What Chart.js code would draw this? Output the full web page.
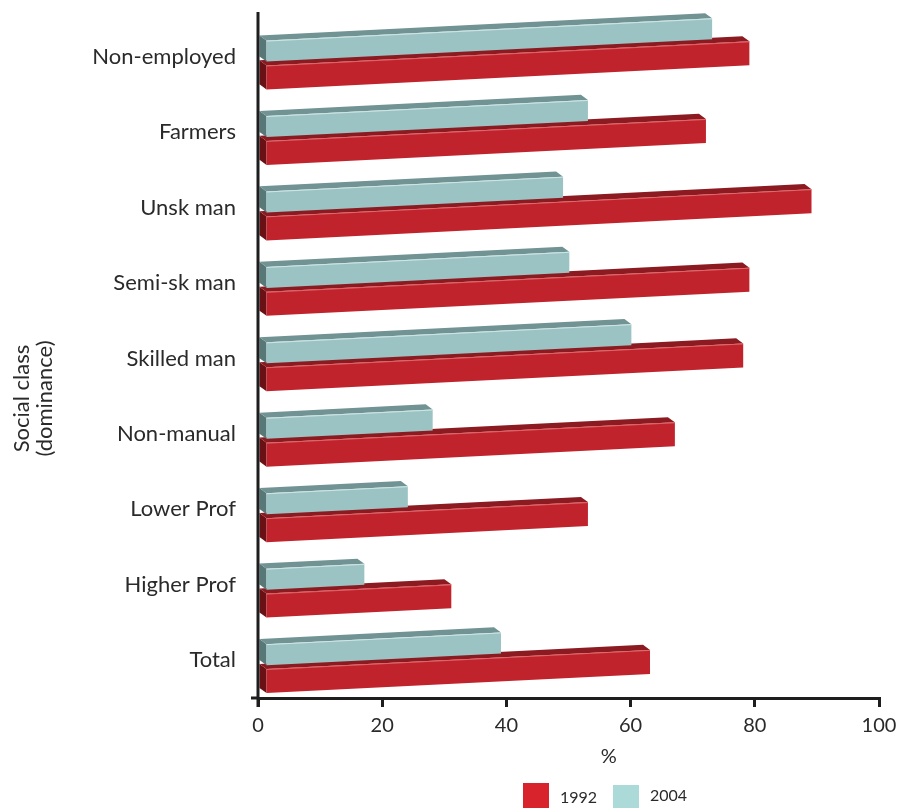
<!DOCTYPE html>
<html>
<head>
<meta charset="utf-8">
<script src="https://cdn.jsdelivr.net/npm/chart.js@4/dist/chart.umd.min.js"></script>
<style>
  html, body { margin: 0; padding: 0; background: #fff; overflow: hidden; }
  #wrap { position: relative; width: 898px; height: 808px; overflow: hidden; }
  #legend { position: absolute; left: 0; top: 0; width: 898px; height: 808px; pointer-events: none; }
  .lg-box { position: absolute; width: 26px; height: 30px; }
  .lg-text { position: absolute; font-family: Lato, sans-serif; font-size: 16px; color: #2a2a2a; line-height: 16px; }
</style>
</head>
<body>
<div id="wrap">
  <canvas id="chart" width="898" height="808"></canvas>
  <div id="legend"></div>
</div>
<script>
// Social class categories, top to bottom
const categories = ['Non-employed', 'Farmers', 'Unsk man', 'Semi-sk man', 'Skilled man',
                    'Non-manual', 'Lower Prof', 'Higher Prof', 'Total'];
// Percentages per year
const values1992 = [78, 71, 88, 78, 77, 66, 52, 30, 62];
const values2004 = [72, 52, 48, 49, 59, 27, 23, 16, 38];
const xTickValues = [0, 20, 40, 60, 80, 100];
const yearLabels = ['1992', '2004'];
const xTitle = '%';
const yTitle = ['Social class', '(dominance)'];

// Face shading for the extruded bars
const faces = {
  '1992': { front: '#c0232b', top: '#8c1a21', side: '#6a1116', edge: 'rgba(236,120,124,0.75)', legend: '#d8232c', h: 24 },
  '2004': { front: '#9cc3c3', top: '#729393', side: '#587777', edge: 'rgba(215,235,235,0.85)', legend: '#acdad8', h: 21 }
};
const depthX = -7, depthY = -5.5;   // receding direction of the extrusion
const frontDX = 7, frontDY = 8;     // front face offset from the bar slot
const slant = 0.05;                 // upward tilt per pixel along the value axis
const inkColor = '#2a2a2a';
const axisColor = '#1e1e1e';

const skipFlatBars = {
  id: 'skipFlatBars',
  beforeDatasetDraw() { return false; }
};

const extrudedBars = {
  id: 'extrudedBars',
  afterDatasetsDraw(chart) {
    const ctx = chart.ctx;
    const xs = chart.scales.x;
    const x0 = xs.getPixelForValue(0);
    const P = (px, py) => [px, py - slant * (px - x0)];
    const poly = (pts, fill) => {
      ctx.beginPath();
      ctx.moveTo(pts[0][0], pts[0][1]);
      for (let i = 1; i < pts.length; i++) ctx.lineTo(pts[i][0], pts[i][1]);
      ctx.closePath();
      ctx.fillStyle = fill;
      ctx.fill();
    };
    ctx.save();
    // lower series first so the upper bar's front face sits over its top face
    const order = chart.data.datasets.map((d, i) => i).reverse();
    for (const di of order) {
      const ds = chart.data.datasets[di];
      const f = faces[ds.label];
      chart.getDatasetMeta(di).data.forEach(el => {
        const { x, y, base } = el.getProps(['x', 'y', 'base'], true);
        const L = base + frontDX, R = x + frontDX;
        const T = y + frontDY - f.h / 2, B = y + frontDY + f.h / 2;
        const fTL = P(L, T), fTR = P(R, T), fBR = P(R, B), fBL = P(L, B);
        const bTL = P(L + depthX, T + depthY), bTR = P(R + depthX, T + depthY), bBL = P(L + depthX, B + depthY);
        poly([fBL, fTL, bTL, bBL], f.side);
        poly([fTL, fTR, bTR, bTL], f.top);
        poly([fTL, fTR, fBR, fBL], f.front);
        ctx.beginPath();
        ctx.moveTo(fTL[0], fTL[1] + 0.5);
        ctx.lineTo(fTR[0], fTR[1] + 0.5);
        ctx.strokeStyle = f.edge;
        ctx.lineWidth = 1;
        ctx.stroke();
      });
    }
    // value-axis baseline (vertical), drawn over the bar ends
    const ca = chart.chartArea;
    ctx.beginPath();
    ctx.moveTo(x0, ca.top - 7);
    ctx.lineTo(x0, ca.bottom + 9);
    ctx.moveTo(x0 - 7, ca.bottom);
    ctx.lineTo(x0, ca.bottom);
    ctx.strokeStyle = axisColor;
    ctx.lineWidth = 3;
    ctx.stroke();
    ctx.restore();
  }
};

const axisTitles = {
  id: 'axisTitles',
  afterDraw(chart) {
    const ctx = chart.ctx;
    const ca = chart.chartArea;
    ctx.save();
    ctx.fillStyle = inkColor;
    ctx.textAlign = 'center';
    ctx.textBaseline = 'middle';
    ctx.font = '20px Lato, sans-serif';
    ctx.fillText(xTitle, chart.scales.x.getPixelForValue(56.5), ca.bottom + 59);
    ctx.font = '22px Lato, sans-serif';
    ctx.translate(33, (ca.top + ca.bottom) / 2 + 40);
    ctx.rotate(-Math.PI / 2);
    ctx.fillText(yTitle[0], 0, -11.5);
    ctx.fillText(yTitle[1], 0, 11.5);
    ctx.restore();
  }
};

const chart = new Chart(document.getElementById('chart'), {
  type: 'bar',
  data: {
    labels: categories,
    datasets: [
      { label: yearLabels[1], data: values2004, backgroundColor: faces['2004'].front },
      { label: yearLabels[0], data: values1992, backgroundColor: faces['1992'].front }
    ]
  },
  options: {
    indexAxis: 'y',
    responsive: false,
    animation: false,
    devicePixelRatio: 1,
    categoryPercentage: 0.70,
    barPercentage: 0.9,
    layout: { padding: { top: 19, right: 19, left: 0, bottom: 0 } },
    plugins: { legend: { display: false }, tooltip: { enabled: false } },
    scales: {
      x: {
        min: 0, max: 100,
        afterBuildTicks: s => { s.ticks = xTickValues.map(v => ({ value: v })); },
        grid: { drawOnChartArea: false, drawTicks: true, tickLength: 9, color: axisColor, lineWidth: 3 },
        border: { display: true, color: axisColor, width: 3 },
        ticks: { font: { family: 'Lato', size: 20 }, color: inkColor, padding: 7, maxRotation: 0 },
        afterFit: s => { s.height = 110; s.paddingLeft = 0; s.paddingRight = 0; }
      },
      y: {
        grid: { display: false, drawTicks: false },
        border: { display: false },
        ticks: { font: { family: 'Lato', size: 22 }, color: inkColor, padding: 22 },
        afterFit: s => { s.width = 258; s.paddingTop = 0; s.paddingBottom = 0; }
      }
    }
  },
  plugins: [skipFlatBars, extrudedBars, axisTitles]
});

// Legend under the axis, 1992 first
(function buildLegend() {
  const host = document.getElementById('legend');
  const entries = [
    { label: yearLabels[0], boxLeft: 523, boxTop: 783, textLeft: 560, textTop: 789 },
    { label: yearLabels[1], boxLeft: 613, boxTop: 785, textLeft: 650, textTop: 787 }
  ];
  entries.forEach(e => {
    const b = document.createElement('div');
    b.className = 'lg-box';
    b.style.left = e.boxLeft + 'px';
    b.style.top = e.boxTop + 'px';
    b.style.background = faces[e.label].legend;
    host.appendChild(b);
    const t = document.createElement('div');
    t.className = 'lg-text';
    t.style.left = e.textLeft + 'px';
    t.style.top = e.textTop + 'px';
    t.textContent = e.label;
    host.appendChild(t);
  });
})();
</script>
</body>
</html>
